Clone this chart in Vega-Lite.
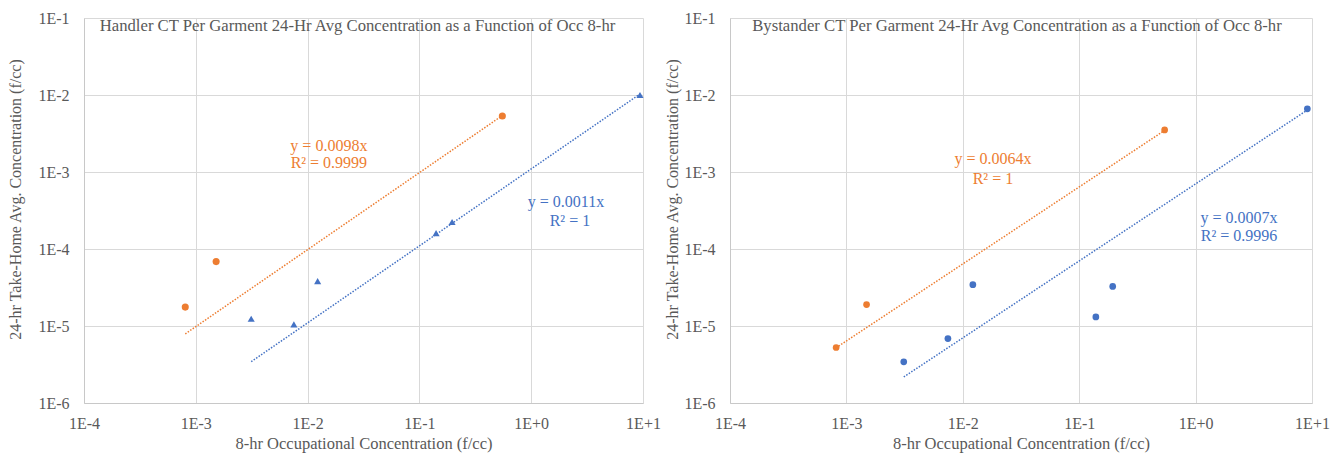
{
  "$schema": "https://vega.github.io/schema/vega-lite/v6.json",
  "background": "white",
  "padding": {"left": 7, "top": 10, "right": 5, "bottom": 5},
  "spacing": 87,
  "bounds": "flush",
  "config": {
    "view": {"stroke": null},
    "font": "Liberation Serif",
    "style": {
      "guide-label": {"font": "Liberation Serif", "fontSize": 16, "fill": "#595959"},
      "guide-title": {"font": "Liberation Serif", "fontSize": 16.5, "fill": "#595959", "fontWeight": "normal"}
    },
    "axis": {
      "labelFont": "Liberation Serif",
      "titleFont": "Liberation Serif",
      "labelFontSize": 16,
      "titleFontSize": 16.5,
      "labelColor": "#595959",
      "titleColor": "#595959",
      "titleFontWeight": "normal",
      "gridColor": "#d9d9d9",
      "gridWidth": 1,
      "domainColor": "#c8c8c8",
      "ticks": false,
      "tickSize": 0
    }
  },
  "datasets": {
    "pts": [
      {"panel": "Handler", "series": "A", "x": 0.000805, "y": 0.0000176},
      {"panel": "Handler", "series": "A", "x": 0.00152, "y": 0.0000686},
      {"panel": "Handler", "series": "A", "x": 0.552, "y": 0.00534},
      {"panel": "Handler", "series": "B", "x": 0.00313, "y": 0.0000124},
      {"panel": "Handler", "series": "B", "x": 0.00754, "y": 0.0000105},
      {"panel": "Handler", "series": "B", "x": 0.0123, "y": 0.0000382},
      {"panel": "Handler", "series": "B", "x": 0.141, "y": 0.000161},
      {"panel": "Handler", "series": "B", "x": 0.196, "y": 0.000224},
      {"panel": "Handler", "series": "B", "x": 9.4, "y": 0.0100},
      {"panel": "Bystander", "series": "A", "x": 0.000816, "y": 0.00000526},
      {"panel": "Bystander", "series": "A", "x": 0.00149, "y": 0.0000190},
      {"panel": "Bystander", "series": "A", "x": 0.542, "y": 0.00352},
      {"panel": "Bystander", "series": "B", "x": 0.00311, "y": 0.00000343},
      {"panel": "Bystander", "series": "B", "x": 0.00745, "y": 0.00000687},
      {"panel": "Bystander", "series": "B", "x": 0.0122, "y": 0.0000344},
      {"panel": "Bystander", "series": "B", "x": 0.139, "y": 0.0000131},
      {"panel": "Bystander", "series": "B", "x": 0.194, "y": 0.0000327},
      {"panel": "Bystander", "series": "B", "x": 9.12, "y": 0.00662}
    ],
    "trend": [
      {"panel": "Handler", "series": "A", "x": 0.000805, "y": 0.0000079},
      {"panel": "Handler", "series": "A", "x": 0.552, "y": 0.00541},
      {"panel": "Handler", "series": "B", "x": 0.00313, "y": 0.00000344},
      {"panel": "Handler", "series": "B", "x": 9.4, "y": 0.0103},
      {"panel": "Bystander", "series": "A", "x": 0.000816, "y": 0.00000522},
      {"panel": "Bystander", "series": "A", "x": 0.542, "y": 0.00347},
      {"panel": "Bystander", "series": "B", "x": 0.00311, "y": 0.00000218},
      {"panel": "Bystander", "series": "B", "x": 9.12, "y": 0.00638}
    ],
    "ann": [
      {"panel": "Handler", "series": "A", "x": 0.0155, "y": 0.00218, "label": "y = 0.0098x"},
      {"panel": "Handler", "series": "A", "x": 0.0155, "y": 0.00131, "label": "R² = 0.9999"},
      {"panel": "Handler", "series": "B", "x": 2.05, "y": 0.000407, "label": "y = 0.0011x"},
      {"panel": "Handler", "series": "B", "x": 2.22, "y": 0.000231, "label": "R² = 1"},
      {"panel": "Bystander", "series": "A", "x": 0.01815, "y": 0.00149, "label": "y = 0.0064x"},
      {"panel": "Bystander", "series": "A", "x": 0.01815, "y": 0.000822, "label": "R² = 1"},
      {"panel": "Bystander", "series": "B", "x": 2.36, "y": 0.000256, "label": "y = 0.0007x"},
      {"panel": "Bystander", "series": "B", "x": 2.36, "y": 0.000146, "label": "R² = 0.9996"}
    ]
  },
  "hconcat": [
    {
      "width": 559,
      "height": 385,
      "title": {"text": "Handler CT Per Garment 24-Hr Avg Concentration as a Function of Occ 8-hr", "offset": -25, "dx": -6, "fontSize": 16.7, "fontWeight": "normal", "color": "#595959", "font": "Liberation Serif"},
      "layer": [
        {
          "data": {"name": "trend"},
          "transform": [{"filter": "datum.panel == 'Handler'"}],
          "mark": {"type": "line", "strokeWidth": 1.5, "strokeDash": [1.5, 1.5]},
          "encoding": {
            "x": {"field": "x", "type": "quantitative", "scale": {"type": "log", "domain": [0.0001, 10], "nice": false}, "axis": {"values": [0.0001, 0.001, 0.01, 0.1, 1, 10], "labelExpr": "'1E' + (round(log(datum.value)/LN10) >= 0 ? '+' : '') + round(log(datum.value)/LN10)", "title": "8-hr Occupational Concentration (f/cc)", "labelFont": "Liberation Serif", "titleFont": "Liberation Serif", "labelPadding": 12, "titlePadding": 4, "labelFlush": false}},
            "y": {"field": "y", "type": "quantitative", "scale": {"type": "log", "domain": [0.000001, 0.1], "nice": false}, "axis": {"values": [0.000001, 0.00001, 0.0001, 0.001, 0.01, 0.1], "labelExpr": "'1E' + (round(log(datum.value)/LN10) >= 0 ? '+' : '') + round(log(datum.value)/LN10)", "title": "24-hr Take-Home Avg.  Concentration (f/cc)", "labelFont": "Liberation Serif", "titleFont": "Liberation Serif", "titleFontSize": 16, "titleY": 181, "labelPadding": 15, "titlePadding": 14, "labelFlush": false}},
            "color": {"field": "series", "type": "nominal", "scale": {"domain": ["A", "B"], "range": ["#ED7D31", "#4472C4"]}, "legend": null},
            "detail": {"field": "series"}
          }
        },
        {
          "data": {"name": "pts"},
          "transform": [{"filter": "datum.panel == 'Handler'"}],
          "mark": {"type": "point", "filled": true, "opacity": 1},
          "encoding": {
            "x": {"field": "x", "type": "quantitative"},
            "y": {"field": "y", "type": "quantitative"},
            "color": {"field": "series", "type": "nominal", "scale": {"domain": ["A", "B"], "range": ["#ED7D31", "#4472C4"]}, "legend": null},
            "shape": {"field": "series", "type": "nominal", "scale": {"domain": ["A", "B"], "range": ["circle", "triangle-up"]}, "legend": null},
            "size": {"value": 50}
          }
        },
        {
          "data": {"name": "ann"},
          "transform": [{"filter": "datum.panel == 'Handler'"}],
          "mark": {"type": "text", "fontSize": 16, "font": "Liberation Serif", "align": "center", "baseline": "middle"},
          "encoding": {
            "x": {"field": "x", "type": "quantitative"},
            "y": {"field": "y", "type": "quantitative"},
            "text": {"field": "label"},
            "color": {"field": "series", "type": "nominal", "scale": {"domain": ["A", "B"], "range": ["#ED7D31", "#4472C4"]}, "legend": null}
          }
        }
      ]
    },
    {
      "width": 582,
      "height": 385,
      "title": {"text": "Bystander CT Per Garment 24-Hr Avg Concentration as a Function of Occ 8-hr", "offset": -25, "dx": -4, "fontSize": 16.7, "fontWeight": "normal", "color": "#595959", "font": "Liberation Serif"},
      "layer": [
        {
          "data": {"name": "trend"},
          "transform": [{"filter": "datum.panel == 'Bystander'"}],
          "mark": {"type": "line", "strokeWidth": 1.5, "strokeDash": [1.5, 1.5]},
          "encoding": {
            "x": {"field": "x", "type": "quantitative", "scale": {"type": "log", "domain": [0.0001, 10], "nice": false}, "axis": {"values": [0.0001, 0.001, 0.01, 0.1, 1, 10], "labelExpr": "'1E' + (round(log(datum.value)/LN10) >= 0 ? '+' : '') + round(log(datum.value)/LN10)", "title": "8-hr Occupational Concentration (f/cc)", "labelFont": "Liberation Serif", "titleFont": "Liberation Serif", "labelPadding": 12, "titlePadding": 4, "labelFlush": false}},
            "y": {"field": "y", "type": "quantitative", "scale": {"type": "log", "domain": [0.000001, 0.1], "nice": false}, "axis": {"values": [0.000001, 0.00001, 0.0001, 0.001, 0.01, 0.1], "labelExpr": "'1E' + (round(log(datum.value)/LN10) >= 0 ? '+' : '') + round(log(datum.value)/LN10)", "title": "24-hr Take-Home Avg.  Concentration (f/cc)", "labelFont": "Liberation Serif", "titleFont": "Liberation Serif", "titleFontSize": 16, "titleY": 181, "labelPadding": 15, "titlePadding": 3, "labelFlush": false}},
            "color": {"field": "series", "type": "nominal", "scale": {"domain": ["A", "B"], "range": ["#ED7D31", "#4472C4"]}, "legend": null},
            "detail": {"field": "series"}
          }
        },
        {
          "data": {"name": "pts"},
          "transform": [{"filter": "datum.panel == 'Bystander'"}],
          "mark": {"type": "point", "filled": true, "opacity": 1, "shape": "circle"},
          "encoding": {
            "x": {"field": "x", "type": "quantitative"},
            "y": {"field": "y", "type": "quantitative"},
            "color": {"field": "series", "type": "nominal", "scale": {"domain": ["A", "B"], "range": ["#ED7D31", "#4472C4"]}, "legend": null},
            "size": {"value": 45}
          }
        },
        {
          "data": {"name": "ann"},
          "transform": [{"filter": "datum.panel == 'Bystander'"}],
          "mark": {"type": "text", "fontSize": 16, "font": "Liberation Serif", "align": "center", "baseline": "middle"},
          "encoding": {
            "x": {"field": "x", "type": "quantitative"},
            "y": {"field": "y", "type": "quantitative"},
            "text": {"field": "label"},
            "color": {"field": "series", "type": "nominal", "scale": {"domain": ["A", "B"], "range": ["#ED7D31", "#4472C4"]}, "legend": null}
          }
        }
      ]
    }
  ]
}
